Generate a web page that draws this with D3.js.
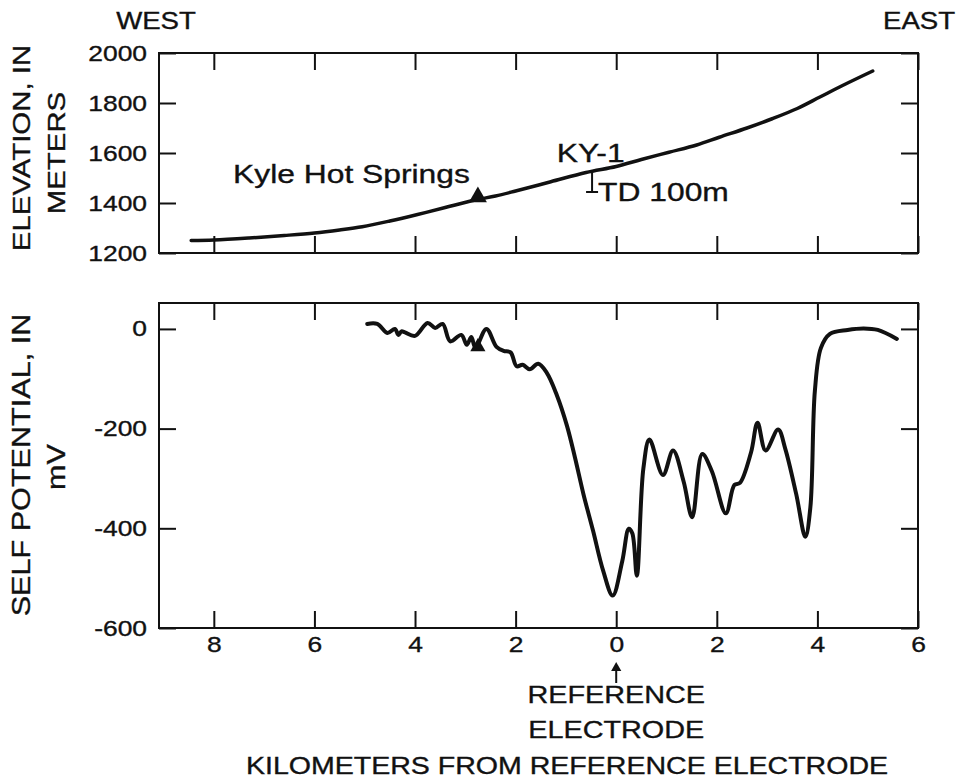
<!DOCTYPE html>
<html>
<head>
<meta charset="utf-8">
<script src="https://cdnjs.cloudflare.com/ajax/libs/d3/7.8.5/d3.min.js"></script>
<style>
body { margin: 0; background: #fff; }
svg text { font-family: "Liberation Sans", Arial, Helvetica, sans-serif; fill: #111; stroke: #111; stroke-width: 0.35px; }
</style>
</head>
<body>
<div id="chart"></div>
<script>
////////////////////////////////////////////////////////////
//////////////////////// Data //////////////////////////////
////////////////////////////////////////////////////////////
// distance in km from the reference electrode, west is negative
var elevKm = [-8.45, -8.0, -7.3, -6.6, -6.0, -5.5, -5.05, -4.5, -3.95, -3.4, -2.8, -2.4, -2.0,
  -1.3, -0.6, 0, 0.5, 1.05, 1.6, 2.05, 2.6, 3.1, 3.6, 4.05, 4.5, 5.1];
var elevM = [1250, 1252, 1260, 1270, 1280, 1292, 1305, 1328, 1354, 1382, 1412, 1428, 1448,
  1485, 1522, 1546, 1574, 1603, 1632, 1663, 1700, 1737, 1778, 1824, 1870, 1928];

var spKm = [-4.95, -4.75, -4.55, -4.4, -4.33, -4.27, -4.2, -4.0, -3.75, -3.6, -3.45, -3.3, -3.08,
  -2.97, -2.88, -2.8, -2.58, -2.38, -2.24, -2.1, -1.98, -1.86, -1.72, -1.55, -1.38, -1.18, -0.98,
  -0.82, -0.65, -0.46, -0.26, -0.07, 0.12, 0.25, 0.32, 0.41, 0.54, 0.66, 0.93, 1.13, 1.34, 1.51,
  1.71, 1.9, 2.18, 2.35, 2.46, 2.68, 2.81, 2.97, 3.22, 3.36, 3.58, 3.76, 3.86, 3.95, 4.07, 4.25,
  4.6, 4.92, 5.2, 5.58];
var spMv = [10, 10, -8, 0, -12, -5, -7, -14, 12, 2, 10, -25, -12,
  -32, -16, -38, 0, -36, -44, -47, -75, -72, -81, -70, -88, -133, -194,
  -258, -332, -405, -485, -535, -466, -401, -410, -495, -280, -222, -293, -244, -306, -378,
  -251, -285, -370, -313, -309, -248, -188, -244, -202, -240, -332, -417, -358, -124, -38, -10,
  -2, 1, -2, -20];

// Kyle Hot Springs and well KY-1
var springKm = -2.75, springElev = 1420, springSp = -36;
var wellKm = -0.48, wellTop = 1524, wellBottom = 1444;

// ticks
var xTicks = [-8, -6, -4, -2, 0, 2, 4, 6];
var elevTicks = [1200, 1400, 1600, 1800, 2000];
var spTicks = [-600, -400, -200, 0];

////////////////////////////////////////////////////////////
//////////////////////// Set-Up ////////////////////////////
////////////////////////////////////////////////////////////
var width = 959, height = 784,
  left = 159, right = 918,
  top1 = 53, bottom1 = 253,
  top2 = 303, bottom2 = 628,
  tick = 17,
  stretch = 1.2; // the lettering of the original is a wide face

var svg = d3.select("#chart").append("svg")
  .attr("width", width)
  .attr("height", height);

var x = d3.scaleLinear().domain([-9.09, 6.0]).range([left, right]);
var yElev = d3.scaleLinear().domain([1200, 2000]).range([bottom1, top1]);
var ySp = d3.scaleLinear().domain([-600, 52]).range([bottom2, top2]);

function label(sel, px, py, txt, size, anchor, rot) {
  return sel.append("text")
    .attr("transform", "translate(" + px + "," + py + ")" + (rot ? " rotate(" + rot + ")" : "") +
      " scale(" + stretch + ",1)")
    .attr("text-anchor", anchor || "middle")
    .style("font-size", size + "px")
    .text(txt);
}

function styleAxis(g) {
  g.select(".domain").remove();
  g.selectAll(".tick line").attr("stroke", "#111").attr("stroke-width", 2);
  g.selectAll(".tick text")
    .attr("fill", "#111")
    .style("font-family", "'Liberation Sans', Arial, sans-serif")
    .style("font-size", "22px")
    .attr("transform", "scale(" + stretch + ",1)");
}

// plain hyphen for negative values, as in the print
var plain = function(d) { return String(d); };

// inward ticks on all four sides of a panel
function frame(y, yTicks, y0, y1, fmtLeft, fmtBottom) {
  var g = svg.append("g");
  g.append("g").attr("transform", "translate(0," + y1 + ")")
    .call(d3.axisBottom(x).tickValues(xTicks).tickSize(-tick).tickPadding(8).tickFormat(fmtBottom))
    .call(styleAxis);
  g.append("g").attr("transform", "translate(0," + y0 + ")")
    .call(d3.axisTop(x).tickValues(xTicks).tickSize(-tick).tickFormat(""))
    .call(styleAxis);
  g.append("g").attr("transform", "translate(" + left + ",0)")
    .call(d3.axisLeft(y).tickValues(yTicks).tickSize(-tick).tickPadding(10).tickFormat(fmtLeft))
    .call(styleAxis);
  g.append("g").attr("transform", "translate(" + right + ",0)")
    .call(d3.axisRight(y).tickValues(yTicks).tickSize(-tick).tickFormat(""))
    .call(styleAxis);
  g.append("rect")
    .attr("x", left).attr("y", y0)
    .attr("width", right - left).attr("height", y1 - y0)
    .attr("fill", "none").attr("stroke", "#111").attr("stroke-width", 2);
  return g;
}

////////////////////////////////////////////////////////////
/////////////////// Elevation panel ////////////////////////
////////////////////////////////////////////////////////////
frame(yElev, elevTicks, top1, bottom1, plain, "");

var elevLine = d3.line()
  .x(function(d, i) { return x(elevKm[i]); })
  .y(function(d) { return yElev(d); })
  .curve(d3.curveCatmullRom.alpha(0.5));

svg.append("path")
  .attr("d", elevLine(elevM))
  .attr("fill", "none")
  .attr("stroke", "#111")
  .attr("stroke-width", 3.5)
  .attr("stroke-linecap", "round");

svg.append("path")
  .attr("d", d3.symbol(d3.symbolTriangle).size(140)())
  .attr("transform", "translate(" + x(springKm) + "," + (yElev(springElev) - 1) + ")")
  .attr("fill", "#111");

// well KY-1, total depth 100 m
svg.append("line")
  .attr("x1", x(wellKm)).attr("x2", x(wellKm))
  .attr("y1", yElev(wellTop)).attr("y2", yElev(wellBottom))
  .attr("stroke", "#111").attr("stroke-width", 2);
svg.append("line")
  .attr("x1", x(wellKm) - 6).attr("x2", x(wellKm) + 6)
  .attr("y1", yElev(wellBottom)).attr("y2", yElev(wellBottom))
  .attr("stroke", "#111").attr("stroke-width", 2);

label(svg, x(springKm) - 8, yElev(1482), "Kyle Hot Springs", 26.5, "end");
label(svg, x(-1.18), yElev(1566), "KY-1", 26.5, "start");
label(svg, x(wellKm) + 6, yElev(1408), "TD 100m", 26.5, "start");

label(svg, left - 3, 29, "WEST", 23);
label(svg, right + 1, 29, "EAST", 23);

label(svg, 30, 148, "ELEVATION, IN", 24.5, "middle", -90);
label(svg, 65, 153, "METERS", 24.5, "middle", -90);

////////////////////////////////////////////////////////////
///////////////// Self potential panel /////////////////////
////////////////////////////////////////////////////////////
frame(ySp, spTicks, top2, bottom2, plain, function(d) { return Math.abs(d); });

var spLine = d3.line()
  .x(function(d, i) { return x(spKm[i]); })
  .y(function(d) { return ySp(d); })
  .curve(d3.curveCatmullRom.alpha(0.5));

svg.append("path")
  .attr("d", spLine(spMv))
  .attr("fill", "none")
  .attr("stroke", "#111")
  .attr("stroke-width", 4)
  .attr("stroke-linejoin", "round")
  .attr("stroke-linecap", "round");

svg.append("path")
  .attr("d", d3.symbol(d3.symbolTriangle).size(100)())
  .attr("transform", "translate(" + x(springKm) + "," + ySp(springSp) + ")")
  .attr("fill", "#111");

label(svg, 30, 465, "SELF POTENTIAL, IN", 25.5, "middle", -90);
label(svg, 65, 467, "mV", 25.5, "middle", -90);

////////////////////////////////////////////////////////////
///////////////// Reference electrode //////////////////////
////////////////////////////////////////////////////////////
svg.append("line")
  .attr("x1", x(0)).attr("x2", x(0))
  .attr("y1", 683).attr("y2", 670)
  .attr("stroke", "#111").attr("stroke-width", 2);
svg.append("path")
  .attr("d", d3.symbol(d3.symbolTriangle).size(45)())
  .attr("transform", "translate(" + x(0) + ",668)")
  .attr("fill", "#111");

label(svg, x(0), 703, "REFERENCE", 24);
label(svg, x(0), 738, "ELECTRODE", 24);
label(svg, 567, 774, "KILOMETERS FROM REFERENCE ELECTRODE", 23.8);
</script>
</body>
</html>
